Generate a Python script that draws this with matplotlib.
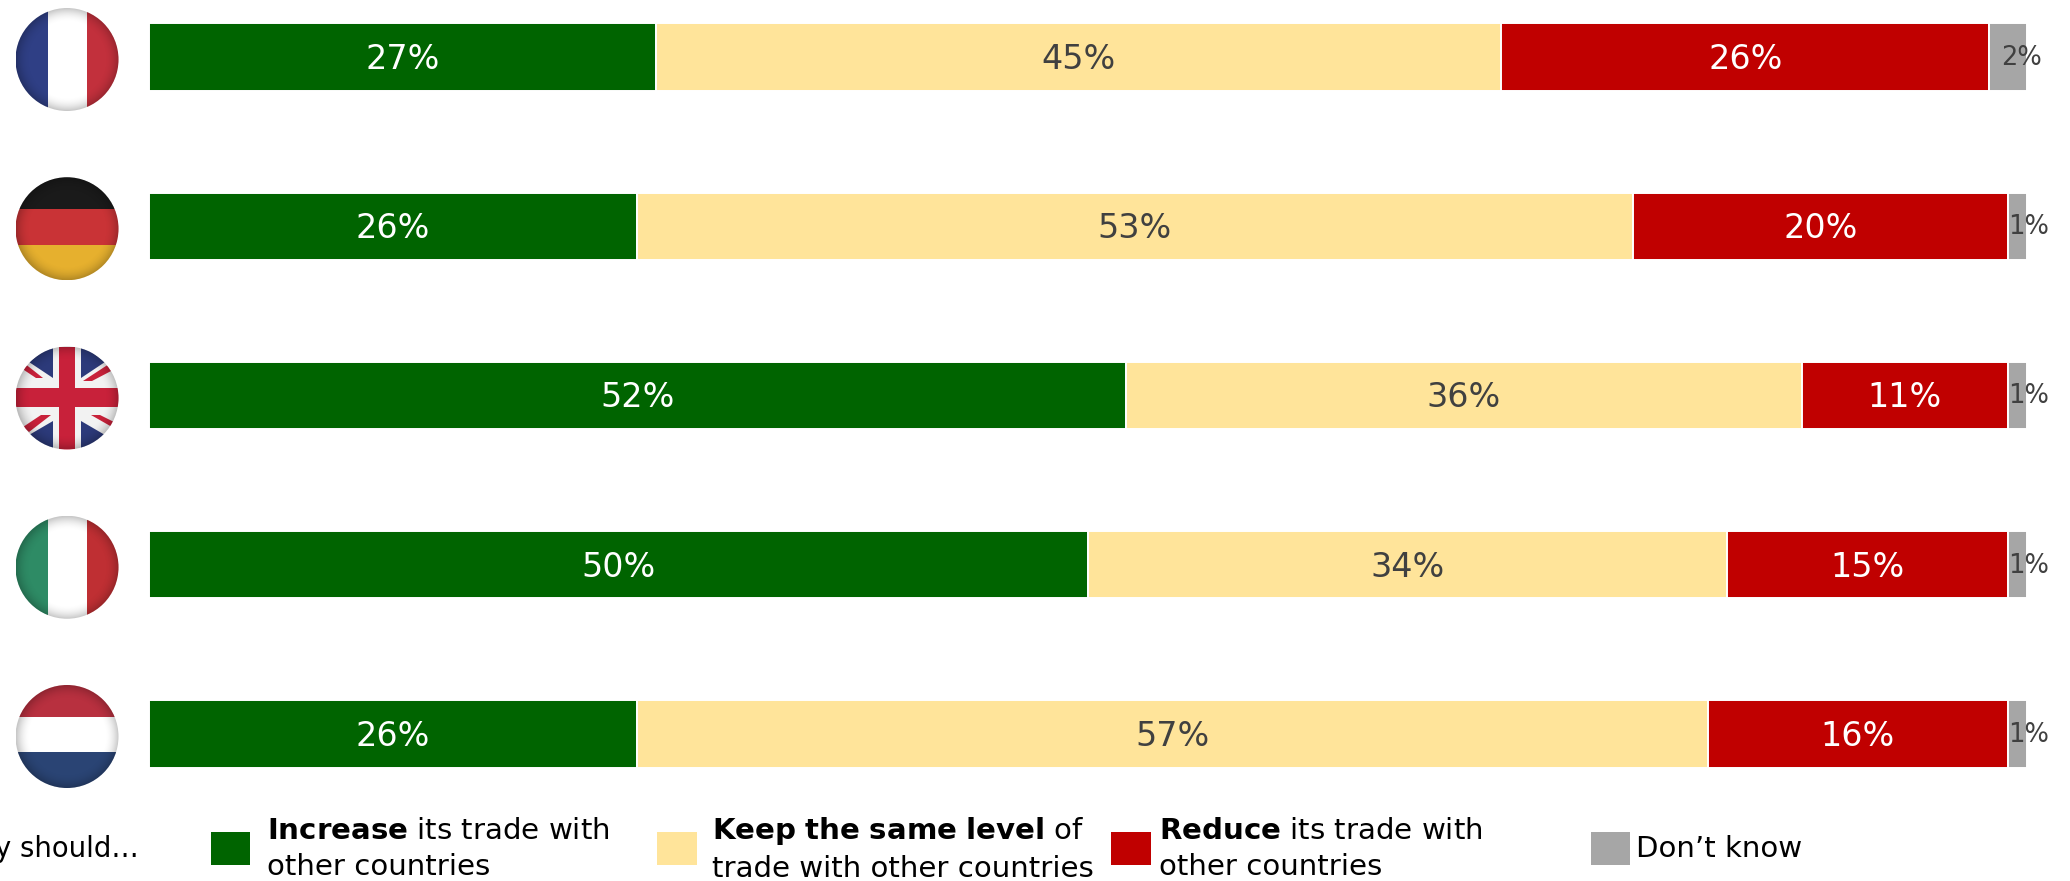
import numpy as np
import matplotlib
matplotlib.use("Agg")
import matplotlib.pyplot as plt
from matplotlib.patches import Circle, Rectangle, Polygon

W, H = 2070, 881

countries = ["France", "Germany", "United Kingdom", "Italy", "Netherlands"]
increase = [27, 26, 52, 50, 26]
keep = [45, 53, 36, 34, 57]
reduce_ = [26, 20, 11, 15, 16]
dont_know = [2, 1, 1, 1, 1]

green = "#006400"
yellow = "#FFE49A"
red = "#C00000"
grey = "#A6A6A6"
dark_text = "#404040"

plt.rcParams["font.family"] = ["DejaVu Sans"]
plt.rcParams["mathtext.fontset"] = "dejavusans"

fig = plt.figure(figsize=(W / 100, H / 100), dpi=100, facecolor="white")

# bars go in an axes that runs the width of the chart, full height
ax = fig.add_axes([149 / W, 0, (2027 - 149) / W, 1])
pitch = 169.25
ax.set_xlim(0, 100)
ax.set_ylim((H - 57) / pitch, -57 / pitch)
ax.axis("off")

left = np.zeros(len(countries))
series = [(increase, green, "white"), (keep, yellow, dark_text),
          (reduce_, red, "white"), (dont_know, grey, dark_text)]
for values, color, txt in series:
    values = np.array(values)
    ax.barh(range(len(countries)), values, left=left, height=0.396, color=color,
            edgecolor="white", linewidth=1.4)
    for i, v in enumerate(values):
        if color == grey:
            # the small labels hang off the right end of the bar
            ax.annotate(f"{v}%", (left[i] + v / 2, i), xytext=(11 if v == 1 else 13, -1),
                        textcoords="offset pixels", ha="center", va="center",
                        fontsize=18.5, color=txt)
        else:
            ax.text(left[i] + v / 2, i + 0.014, f"{v}%", ha="center", va="center",
                    fontsize=24, color=txt)
    left += values

# overlay in pixel coordinates for flags and legend
ov = fig.add_axes([0, 0, 1, 1], facecolor="none")
ov.set_xlim(0, W)
ov.set_ylim(H, 0)
ov.axis("off")


def shade(cx, cy, r, clip):
    # darker rim, like a glossy button
    yy, xx = np.mgrid[-1:1:160j, -1:1:160j]
    rr = np.sqrt(xx ** 2 + yy ** 2)
    img = np.zeros((160, 160, 4))
    img[..., 3] = np.clip((rr - 0.72) / 0.28, 0, 1) ** 2 * 0.22
    im = ov.imshow(img, extent=(cx - r, cx + r, cy + r, cy - r), zorder=5, aspect="auto")
    im.set_clip_path(clip)
    ov.set_xlim(0, W)
    ov.set_ylim(H, 0)


def add_clipped(patches, clip):
    for p in patches:
        ov.add_patch(p)
        p.set_clip_path(clip)


def vertical_flag(cx, cy, r, cols, a=-19.5, b=20):
    clip = Circle((cx, cy), r, transform=ov.transData)
    add_clipped([Rectangle((cx - r, cy - r), a + r, 2 * r, fc=cols[0], lw=0),
                 Rectangle((cx + a, cy - r), b - a, 2 * r, fc=cols[1], lw=0),
                 Rectangle((cx + b, cy - r), r - b, 2 * r, fc=cols[2], lw=0)], clip)
    shade(cx, cy, r, clip)


def horizontal_flag(cx, cy, r, cols, a=-19.5, b=16):
    clip = Circle((cx, cy), r, transform=ov.transData)
    add_clipped([Rectangle((cx - r, cy - r), 2 * r, a + r, fc=cols[0], lw=0),
                 Rectangle((cx - r, cy + a), 2 * r, b - a, fc=cols[1], lw=0),
                 Rectangle((cx - r, cy + b), 2 * r, r - b, fc=cols[2], lw=0)], clip)
    shade(cx, cy, r, clip)


def union_flag(cx, cy, r):
    clip = Circle((cx, cy), r, transform=ov.transData)
    navy, white, crimson = "#2C3A7A", "#F2F2F2", "#C8213A"
    parts = [Rectangle((cx - r, cy - r), 2 * r, 2 * r, fc=white, lw=0)]
    # the four navy triangles, they run out past the circle
    tri = [[(-14, -54), (-14, -20), (-38, -36)], [(14, -54), (14, -20), (38, -36)],
           [(-14, 54), (-14, 23), (-38, 37)], [(14, 54), (14, 23), (38, 37)]]
    pieces = [[(-46, -30), (-43, -35), (-24, -20), (-31, -20)],
              [(16, -17), (25, -17), (46, -28), (42, -34)],
              [(-26, 17), (-16, 17), (-38, 34), (-44, 29)],
              [(24, 17), (33, 17), (47, 24), (45, 29)]]
    for t in tri:
        parts.append(Polygon([(cx + a, cy + b) for a, b in t], fc=navy, lw=0))
    for t in pieces:
        parts.append(Polygon([(cx + a, cy + b) for a, b in t], fc=crimson, lw=0))
    parts += [Rectangle((cx - 8, cy - r), 16, 2 * r, fc=crimson, lw=0),
              Rectangle((cx - r, cy - 9.5), 2 * r, 19, fc=crimson, lw=0)]
    add_clipped(parts, clip)
    shade(cx, cy, r, clip)


flag_r = 51.5
flag_x = 67
for i, name in enumerate(countries):
    # flags sit a little below the bar centres
    cy = H - ax.transData.transform((0, i))[1] + 2.5
    if name == "France":
        vertical_flag(flag_x, cy, flag_r, ["#2F3F85", "white", "#C2303C"])
    elif name == "Germany":
        horizontal_flag(flag_x, cy, flag_r, ["#1A1A1A", "#C93336", "#E6B02E"])
    elif name == "United Kingdom":
        union_flag(flag_x, cy, flag_r)
    elif name == "Italy":
        vertical_flag(flag_x, cy, flag_r, ["#2E8B65", "white", "#BF2F33"])
    else:
        horizontal_flag(flag_x, cy, flag_r, ["#B8303F", "white", "#2A4474"])

# legend
legend_items = [
    (211, 39, green, 267, "$\\mathbf{Increase}$ its trade with\nother countries"),
    (657, 40, yellow, 712, "$\\mathbf{Keep\\ the\\ same\\ level}$ of\ntrade with other countries"),
    (1111, 40, red, 1159, "$\\mathbf{Reduce}$ its trade with\nother countries"),
    (1591, 39, grey, 1636, "Don\u2019t know"),
]
for x0, w, color, tx, label in legend_items:
    ov.add_patch(Rectangle((x0, 832), w, 33, fc=color, lw=0))
    ov.text(tx, 849, label, ha="left", va="center", fontsize=21.1, color="black", linespacing=1.34)
ov.text(139, 849, "y should\u2026", ha="right", va="center", fontsize=19.8, color="black")

fig.savefig("out.png", dpi=100, facecolor="white")
